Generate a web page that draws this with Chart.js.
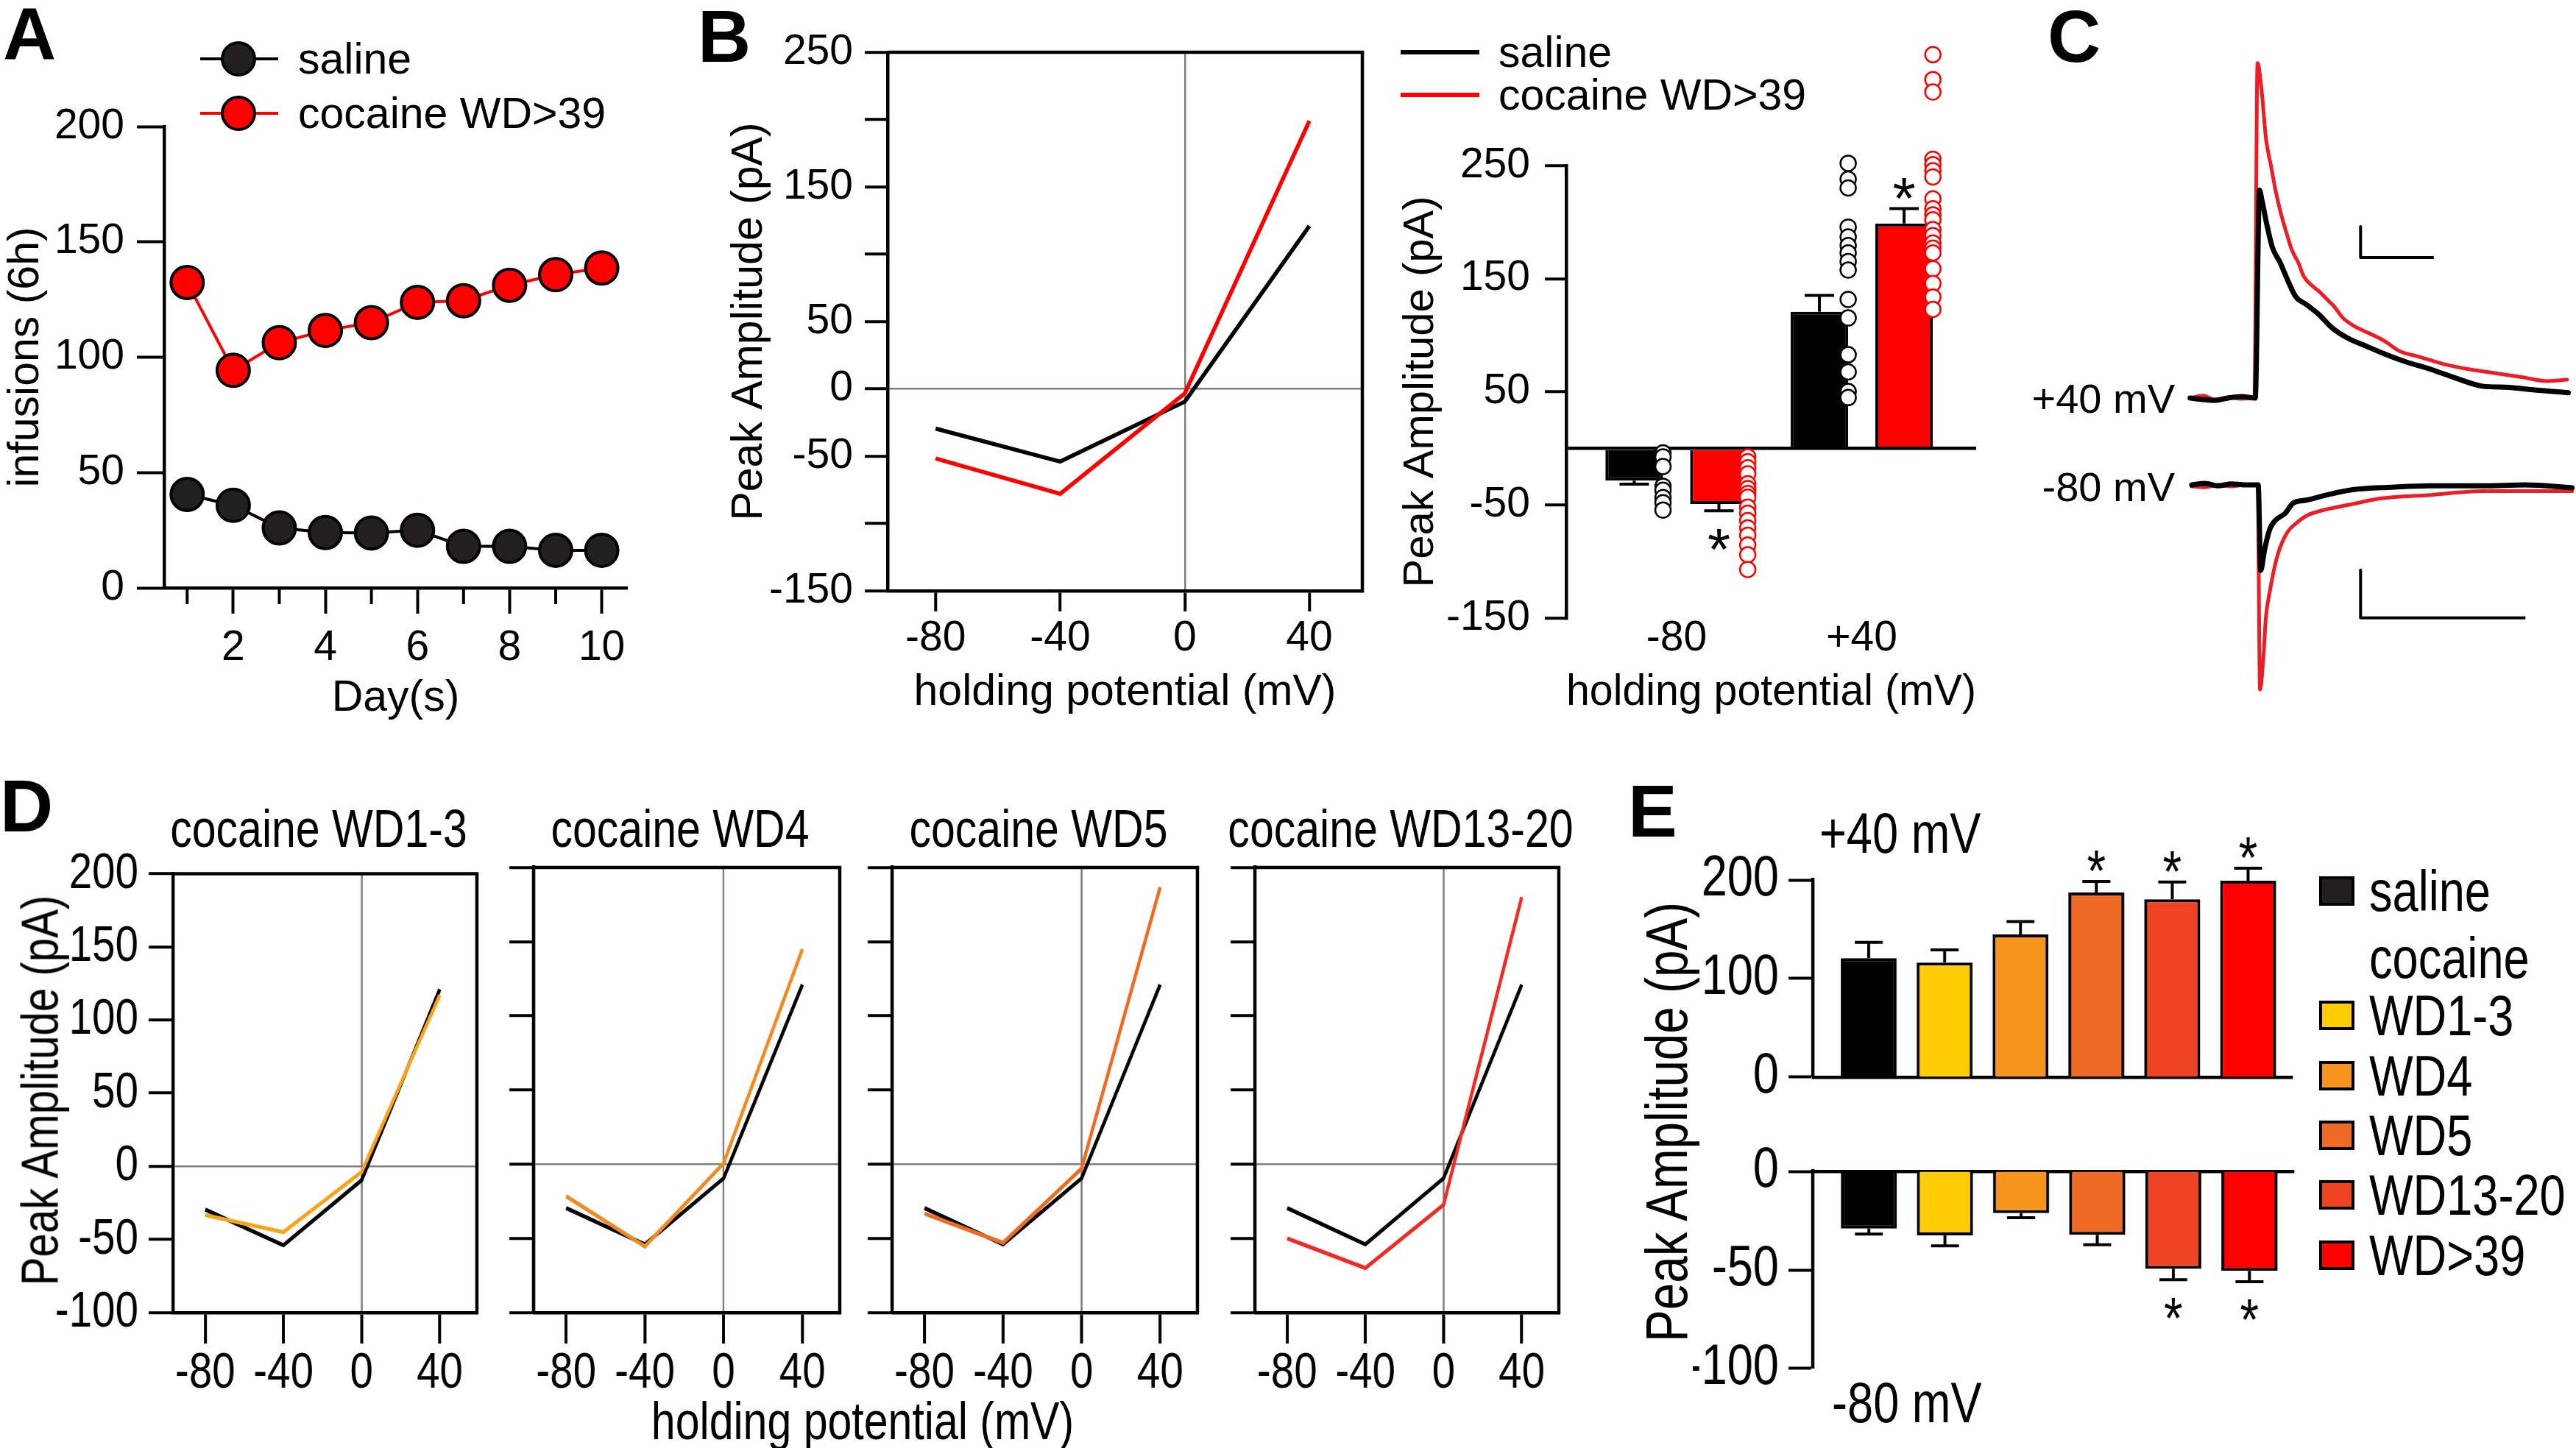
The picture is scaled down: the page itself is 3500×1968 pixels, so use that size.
<!DOCTYPE html>
<html>
<head>
<meta charset="utf-8">
<script src="https://cdn.jsdelivr.net/npm/chart.js@4.4.1/dist/chart.umd.min.js"></script>
<style>
  body { margin: 0; background: #fff; }
  #fig { position: relative; width: 3500px; height: 1968px; overflow: hidden; background: #fff;
         font-family: 'Liberation Sans', Arial, sans-serif; color: #000; }
  #fig canvas { position: absolute; }
  .t { position: absolute; white-space: nowrap; line-height: 1; }
  .box { position: absolute; box-sizing: border-box; }
</style>
</head>
<body>
<div id="fig"></div>
<script>
// ---- A: self-administration
const days = [1, 2, 3, 4, 5, 6, 7, 8, 9, 10];
const salineInfusions = [40.5, 35.8, 26, 24, 23.8, 25, 18, 18, 16.3, 16.3];
const cocaineInfusions = [132.4, 94.3, 106.3, 111.6, 115, 123.8, 124.5, 131.2, 135.8, 138.7];
const infusionTicks = [0, 50, 100, 150, 200];

// ---- B / D: I-V curves (pA at each holding potential)
const holdingPotentials = [-80, -40, 0, 40];
const salineIV = [-29.5, -54, -9.5, 121];
const cocaineWD39IV = [-51.7, -78, -3.4, 199];
const cocaineWD1to3IV = [-33.3, -45, -3.8, 117];
const cocaineWD4IV = [-21.5, -55.4, 0.6, 145];
const cocaineWD5IV = [-33.3, -53, -2.9, 186.7];
const cocaineWD13to20IV = [-50, -70, -27.4, 180];
const ivTicksB = [-150, -100, -50, 0, 50, 100, 150, 200, 250];
const ivLabelsB = [-150, -50, 0, 50, 150, 250];
const ivTicksD = [-100, -50, 0, 50, 100, 150, 200];

// ---- B: bars + single cells
const barCategories = ['-80', '+40'];
const barTicks = [-150, -50, 0, 50, 150, 250];
const salineMean = [-28.6, 120.8];
const salineSem = [3, 14.4];
const cocaineMean = [-49.2, 198.8];
const cocaineSem = [6, 13.2];
const cocaineSig = [true, true];
const salineCells80 = [-4, -7.5, -16, -33.5, -37, -43.5, -48, -54.5];
const salineCells40 = [252, 237.9, 230.2, 195.6, 186.9, 179.3, 172.8, 165.2, 157.6, 131.6, 115.3, 82.8, 67.6, 50.3, 44.9];
const cocaineCells80 = [-7.5, -11.8, -17.2, -22.6, -31.3, -35.6, -39.9, -43.2, -51.9, -57.3, -63.8, -70.3, -76.8, -85.5, -94.1, -107.1];
const cocaineCells40 = [348, 326, 315, 255.6, 250.8, 245.4, 240, 220.5, 211.8, 206.4, 202, 193.4, 188, 181.5, 177, 172.8, 158.7, 145.7, 133.8, 122.9];

// ---- C: example traces (time in ms, current in pA)
const c40SalineT = [7, 15, 22, 30, 38, 46.5, 49.1, 50.6, 53.8, 56.9, 61.7, 66.4, 71.1, 77.4, 85.3, 93.1, 102.6, 113.6, 124.6, 137.2, 153, 168.7, 184.4, 200.2, 215.9, 236.4];
const c40SalineI = [0, -1, -1.5, 0, 1, 0, 134.5, 127.8, 111, 97.5, 87.5, 75.7, 65.6, 60.6, 53.9, 45.5, 38.8, 33.7, 28.7, 23.7, 18.6, 12.7, 7.7, 6.9, 5.2, 3.5];
const c40CocaineT = [7, 15, 22, 30, 38, 46, 47.9, 50.6, 53, 56.2, 58.5, 61.7, 64.8, 68.7, 72.7, 75.8, 80.5, 85.3, 90, 94.7, 99.4, 105.7, 115.2, 124.6, 134.1, 145.1, 160.8, 176.6, 192.3, 208, 223.8, 235.6];
const c40CocaineI = [0, 1.5, -1, 0.5, -0.5, 0.5, 216.8, 196.6, 168, 149.6, 136.1, 121, 109.3, 95.9, 87.5, 79, 73.2, 69, 63.9, 58.9, 52.2, 47.1, 42.1, 37.1, 30.4, 27, 22, 18.6, 16.1, 13.6, 11, 11.9];
const c80SalineT = [8, 16, 24, 32, 40, 48.3, 49.8, 52.2, 55.4, 58.5, 64.8, 69.5, 77.4, 90, 105.7, 129.3, 153, 184.4, 210, 238.7];
const c80SalineI = [0, 0.3, -0.2, 0.2, 0, 0, -17.9, -13.5, -9.2, -7.5, -5.9, -3.8, -3.2, -2.1, -1, -0.5, -0.2, -0.2, 0, -0.6];
const c80CocaineT = [8, 16, 24, 32, 40, 48, 49.4, 51.4, 53, 55.4, 58.5, 61.7, 66.4, 71.1, 77.4, 90, 105.7, 121.5, 153, 184.4, 238.7];
const c80CocaineI = [-0.3, -0.5, 0, -0.3, 0, 0, -42.8, -36.3, -27.6, -22.2, -16.8, -13, -9.7, -8.1, -6.5, -5.1, -4, -2.9, -2.1, -1.3, -1.3];
const scaleBar40T = [110.4, 110.4, 154.8];
const scaleBar40I = [111, 91, 91];
const scaleBar80T = [110.4, 110.4, 210.4];
const scaleBar80I = [-17.8, -27.8, -27.8];

// ---- E: group means
const groupLabels = ['saline', 'WD1-3', 'WD4', 'WD5', 'WD13-20', 'WD>39'];
const mean40 = [120.7, 116.3, 144.8, 187.4, 180.4, 199.3];
const sem40 = [16, 12.8, 13.1, 11.2, 17.6, 12.7];
const sig40 = [false, false, false, true, true, true];
const mean80 = [-29, -32.5, -21.2, -32.2, -49.4, -50.5];
const sem80 = [2.8, 5.3, 2.3, 5, 5.5, 5.5];
const sig80 = [false, false, false, false, true, true];
const groupColors = ['#000000', '#FFCC05', '#F7941E', '#EE6A24', '#EE4423', '#FF0000'];

const RED = '#FF0000';
const NARROW = 0.82;   // horizontal squeeze used to imitate the condensed face of panels D and E

Chart.defaults.font.family = "'Liberation Sans', Arial, sans-serif";
Chart.defaults.color = '#000';
Chart.defaults.plugins.legend.display = false;
Chart.defaults.plugins.tooltip.enabled = false;
Chart.defaults.animation = false;
Chart.defaults.events = [];

// top and right sides of a boxed plot
const framePlugin = {
  id: 'frame',
  afterDraw(chart, args, opts) {
    if (!opts.width) return;
    const a = chart.chartArea, ctx = chart.ctx;
    ctx.save();
    ctx.strokeStyle = '#000';
    ctx.lineWidth = opts.width;
    ctx.beginPath();
    ctx.moveTo(a.left, a.top);
    ctx.lineTo(a.right + opts.vWidth / 2, a.top);
    ctx.stroke();
    ctx.lineWidth = opts.vWidth;
    ctx.beginPath();
    ctx.moveTo(a.right, a.top);
    ctx.lineTo(a.right, a.bottom + opts.width / 2);
    ctx.stroke();
    ctx.restore();
  }
};

// lets single-cell points above the axis top be drawn (B right)
const expandAreaPlugin = {
  id: 'expandArea',
  beforeDatasetsDraw(chart, args, opts) {
    if (!opts.top) return;
    const a = chart.chartArea;
    chart.$savedArea = a;
    chart.chartArea = { left: a.left, right: a.right, bottom: a.bottom, top: a.top - opts.top,
                        width: a.width, height: a.height + opts.top };
  },
  afterDatasetsDraw(chart) {
    if (chart.$savedArea) {
      chart.chartArea = chart.$savedArea;
      chart.$savedArea = null;
    }
  }
};

// one-sided SEM bars and significance stars on bar datasets
const errorBarPlugin = {
  id: 'errorBars',
  afterDatasetsDraw(chart, args, opts) {
    if (!opts.cap) return;
    const ctx = chart.ctx;
    chart.data.datasets.forEach((ds, i) => {
      if (!ds.errors) return;
      const meta = chart.getDatasetMeta(i);
      const yScale = chart.scales[meta.yAxisID];
      meta.data.forEach((bar, j) => {
        const v = ds.data[j].y;
        const dir = v < 0 ? -1 : 1;
        const yTip = yScale.getPixelForValue(v + dir * ds.errors[j]);
        ctx.save();
        ctx.strokeStyle = '#000';
        ctx.lineWidth = opts.vWidth;
        ctx.beginPath();
        ctx.moveTo(bar.x, bar.y);
        ctx.lineTo(bar.x, yTip);
        ctx.stroke();
        ctx.lineWidth = opts.hWidth;
        ctx.beginPath();
        ctx.moveTo(bar.x - opts.cap / 2, yTip);
        ctx.lineTo(bar.x + opts.cap / 2, yTip);
        ctx.stroke();
        if (ds.stars && ds.stars[j]) {
          const cy = yTip - dir * opts.starGap;
          ctx.fillStyle = '#000';
          ctx.font = opts.starSize + "px 'Liberation Sans', Arial, sans-serif";
          ctx.textAlign = 'center';
          ctx.textBaseline = 'alphabetic';
          ctx.fillText('*', bar.x, cy + 0.58 * opts.starSize);
        }
        ctx.restore();
      });
    });
  }
};

// short ticks for odd days in A
const minorTickPlugin = {
  id: 'minorTicks',
  afterDraw(chart, args, opts) {
    if (!opts.values) return;
    const s = chart.scales.x, ctx = chart.ctx;
    ctx.save();
    ctx.strokeStyle = '#000';
    ctx.lineWidth = opts.width;
    opts.values.forEach(v => {
      const x = s.getPixelForValue(v);
      ctx.beginPath();
      ctx.moveTo(x, s.top);
      ctx.lineTo(x, s.top + opts.length);
      ctx.stroke();
    });
    ctx.restore();
  }
};

Chart.register(framePlugin, expandAreaPlugin, errorBarPlugin, minorTickPlugin);

const fig = document.getElementById('fig');

// canvas drawn sx-times narrower on screen than its pixel width
function makeCanvas(left, top, w, h, sx = 1) {
  const c = document.createElement('canvas');
  c.width = Math.round(w / sx);
  c.height = h;
  c.style.cssText = `left:${left}px;top:${top}px;width:${w}px;height:${h}px`;
  fig.appendChild(c);
  return c;
}

function xy(xs, ys) {
  return xs.map((x, i) => ({ x, y: ys[i] }));
}

function text(str, x, y, size, opt = {}) {
  const d = document.createElement('div');
  d.className = 't';
  d.textContent = str;
  d.style.left = x + 'px';
  d.style.top = y + 'px';
  d.style.fontSize = size + 'px';
  if (opt.bold) d.style.fontWeight = 'bold';
  const ax = opt.align === 'center' ? '-50%' : opt.align === 'right' ? '-100%' : '0';
  const ox = opt.align === 'center' ? '50%' : opt.align === 'right' ? '100%' : '0';
  d.style.transformOrigin = opt.rotate ? '50% 50%' : `${ox} 50%`;
  d.style.transform = `translate(${ax},-50%)` + (opt.rotate ? ' rotate(-90deg)' : '') +
                      (opt.narrow ? ` scaleX(${NARROW})` : '');
  fig.appendChild(d);
}

function shape(x, y, w, h, css) {
  const d = document.createElement('div');
  d.className = 'box';
  d.style.cssText += `left:${x}px;top:${y}px;width:${w}px;height:${h}px;` + css;
  fig.appendChild(d);
}

const axisBorder = { display: true, color: '#000', width: 4.5 };

// ================= A =================
new Chart(makeCanvas(0, 0, 900, 990), {
  type: 'line',
  data: {
    datasets: [
      { data: xy(days, salineInfusions), borderColor: '#000', borderWidth: 4, pointRadius: 22,
        pointBorderWidth: 4, pointBorderColor: '#000', pointBackgroundColor: '#231F20' },
      { data: xy(days, cocaineInfusions), borderColor: RED, borderWidth: 4, pointRadius: 22,
        pointBorderWidth: 4, pointBorderColor: '#000', pointBackgroundColor: RED }
    ]
  },
  options: {
    responsive: false,
    layout: { padding: { top: 172, right: 48, left: 0, bottom: 0 } },
    plugins: { minorTicks: { values: days.filter(d => d % 2), length: 22, width: 4 } },
    scales: {
      x: {
        type: 'linear', min: 0.5, max: 10.55,
        afterBuildTicks: s => { s.ticks = days.map(v => ({ value: v })); },
        afterFit: s => { s.height = 191; },
        border: axisBorder,
        grid: { drawOnChartArea: false, tickLength: 35, tickWidth: 4,
                tickColor: c => (c.tick && c.tick.value % 2) ? 'rgba(0,0,0,0)' : '#000' },
        ticks: { autoSkip: false, maxRotation: 0, padding: 13, font: { size: 57 },
                 callback: v => (v % 2 ? '' : String(v)) },
        title: { display: true, text: 'Day(s)', font: { size: 59 }, padding: { top: 0, bottom: 5 } }
      },
      y: {
        min: 0, max: 200,
        afterBuildTicks: s => { s.ticks = infusionTicks.map(v => ({ value: v })); },
        afterFit: s => { s.width = 223; },
        border: axisBorder,
        grid: { drawOnChartArea: false, tickLength: 37, tickWidth: 4, tickColor: '#000' },
        ticks: { padding: 17, font: { size: 57 } },
        title: { display: true, text: 'infusions (6h)', font: { size: 59 }, padding: { top: 0, bottom: 0 } }
      }
    }
  }
});

// I-V plots (B left and the four D panels); horizontal sizes are given in screen px
function ivPanel(o) {
  const sx = o.sx || 1;
  const zeroGrid = (tl, tw, lw) => ({
    drawOnChartArea: true, tickLength: tl, tickWidth: tw, tickColor: '#000', lineWidth: lw,
    color: c => (c.tick && c.tick.value === 0) ? '#808080' : 'rgba(0,0,0,0)'
  });
  return new Chart(makeCanvas(o.left, o.top, o.width, o.height, sx), {
    type: 'line',
    data: {
      datasets: o.series.map(s => ({
        data: xy(holdingPotentials, s.values), borderColor: s.color, borderWidth: 5.5,
        pointRadius: 0, tension: 0
      }))
    },
    options: {
      responsive: false,
      layout: { padding: { top: o.padTop, right: o.padRight / sx, left: 0, bottom: 0 } },
      plugins: { frame: { width: 4.5, vWidth: 4.5 / sx } },
      scales: {
        x: {
          type: 'linear', min: o.xMin, max: o.xMax,
          afterBuildTicks: s => { s.ticks = holdingPotentials.map(v => ({ value: v })); },
          afterFit: s => { s.height = o.xHeight; },
          border: axisBorder,
          grid: zeroGrid(o.xTick, 4 / sx, 2.5 / sx),
          ticks: { autoSkip: false, maxRotation: 0, padding: o.xPad, font: o.tickFont },
          title: o.xTitle || { display: false }
        },
        y: {
          min: o.yMin, max: o.yMax,
          afterBuildTicks: s => { s.ticks = o.yTicks.map(v => ({ value: v })); },
          afterFit: s => { s.width = o.yWidth / sx; },
          border: { display: true, color: '#000', width: 4.5 / sx },
          grid: zeroGrid(o.yTick / sx, 4, 2.5),
          ticks: {
            display: !!o.yLabels, padding: o.yPad / sx, font: o.tickFont, autoSkip: false,
            callback: v => (o.yLabels && o.yLabels.includes(v) ? String(v) : '')
          },
          title: o.yTitle || { display: false }
        }
      }
    }
  });
}

// ================= B (left) =================
ivPanel({
  left: 980, top: 0, width: 891, height: 985, padTop: 71, padRight: 20,
  yWidth: 226, xHeight: 182,
  xMin: -95.4, xMax: 57, yMin: -150, yMax: 250,
  yTicks: ivTicksB, yLabels: ivLabelsB,
  xTick: 28, yTick: 31, xPad: 3, yPad: 16,
  tickFont: { size: 57 },
  series: [{ values: cocaineWD39IV, color: RED }, { values: salineIV, color: '#000' }],
  xTitle: { display: true, text: 'holding potential (mV)', font: { size: 59 }, padding: { top: 0, bottom: 8 } },
  yTitle: { display: true, text: 'Peak Amplitude (pA)', font: { size: 59 }, padding: { top: 3, bottom: 0 } }
});

// ================= B (right) bars =================
const catPctB = 0.915, barPctB = 0.68;
const slotB = catPctB / 2;
const dotOffset = k => (k - 0.5) * slotB + slotB * barPctB / 2;   // right edge of bar k in its group
const cellPoints = (cellsByCat, k) =>
  cellsByCat.flatMap((vals, i) => vals.map(v => ({ x: i + dotOffset(k), y: v })));

new Chart(makeCanvas(1895, 0, 825, 985), {
  type: 'bar',
  data: {
    datasets: [
      { type: 'scatter', data: cellPoints([salineCells80, salineCells40], 0), pointRadius: 10.5,
        pointBorderWidth: 2.5, pointBorderColor: '#000', pointBackgroundColor: '#fff', clip: false, order: 1 },
      { type: 'scatter', data: cellPoints([cocaineCells80, cocaineCells40], 1), pointRadius: 10.5,
        pointBorderWidth: 2.5, pointBorderColor: RED, pointBackgroundColor: '#fff', clip: false, order: 1 },
      { type: 'bar', data: xy([0, 1], salineMean), backgroundColor: '#000', borderColor: '#000',
        borderWidth: 4, categoryPercentage: catPctB, barPercentage: barPctB,
        errors: salineSem, stars: [false, false], order: 2 },
      { type: 'bar', data: xy([0, 1], cocaineMean), backgroundColor: RED, borderColor: '#000',
        borderWidth: 4, categoryPercentage: catPctB, barPercentage: barPctB,
        errors: cocaineSem, stars: cocaineSig, order: 2 }
    ]
  },
  options: {
    responsive: false,
    layout: { padding: { top: 225, right: 35, left: 0, bottom: 0 } },
    plugins: {
      expandArea: { top: 200 },
      errorBars: { cap: 40, vWidth: 4, hWidth: 4, starSize: 80, starGap: 33 }
    },
    scales: {
      x: {
        type: 'linear', offset: false, min: -0.596, max: 1.618,
        afterBuildTicks: s => { s.ticks = barCategories.map((c, i) => ({ value: i })); },
        afterFit: s => { s.height = 145; },
        border: { display: false },
        grid: { display: false, drawTicks: false },
        ticks: { autoSkip: false, maxRotation: 0, padding: -6, font: { size: 57 },
                 callback: v => barCategories[v] },
        title: { display: true, text: 'holding potential (mV)', font: { size: 59 }, padding: { top: 0, bottom: 8 } }
      },
      y: {
        min: -150, max: 250,
        afterBuildTicks: s => { s.ticks = barTicks.map(v => ({ value: v })); },
        afterFit: s => { s.width = 233; },
        border: axisBorder,
        grid: {
          drawOnChartArea: true, tickLength: 29, tickWidth: 4, lineWidth: 4.5,
          color: c => (c.tick && c.tick.value === 0) ? '#000' : 'rgba(0,0,0,0)',
          tickColor: c => (c.tick && c.tick.value === 0) ? 'rgba(0,0,0,0)' : '#000'
        },
        ticks: { padding: 20, font: { size: 57 }, autoSkip: false, callback: v => (v === 0 ? '' : String(v)) },
        title: { display: true, text: 'Peak Amplitude (pA)', font: { size: 58 }, padding: { top: 1, bottom: 0 } }
      }
    }
  }
});

// ================= C traces =================
function trace(ts, is, axis, color, width, straight) {
  return {
    data: xy(ts, is), yAxisID: axis, borderColor: color, borderWidth: width, pointRadius: 0,
    tension: 0, cubicInterpolationMode: straight ? 'default' : 'monotone',
    borderJoinStyle: 'round', borderCapStyle: straight ? 'butt' : 'round'
  };
}
new Chart(makeCanvas(2960, 30, 540, 950), {
  type: 'line',
  data: {
    datasets: [
      trace(c40SalineT, c40SalineI, 'y40', '#000', 7),
      trace(c80SalineT, c80SalineI, 'y80', '#000', 7),
      trace(c40CocaineT, c40CocaineI, 'y40', '#EE1C24', 5),
      trace(c80CocaineT, c80CocaineI, 'y80', '#EE1C24', 5),
      trace(scaleBar40T, scaleBar40I, 'y40', '#000', 4, true),
      trace(scaleBar80T, scaleBar80I, 'y80', '#000', 4, true)
    ]
  },
  options: {
    responsive: false,
    layout: { padding: 0 },
    scales: {
      x: { type: 'linear', display: false, min: 0, max: 241.07 },
      y40: { type: 'linear', display: false, min: -209, max: 243.3 },
      y80: { type: 'linear', display: false, min: -49.4, max: 96.8 }
    }
  }
});

// ================= D =================
const dPanels = [
  { left: 0, width: 678, yWidth: 235, values: cocaineWD1to3IV, color: '#F8A51B', title: 'cocaine WD1-3', labels: true },
  { left: 685, width: 486, yWidth: 40, values: cocaineWD4IV, color: '#F08A21', title: 'cocaine WD4' },
  { left: 1172, width: 485, yWidth: 40, values: cocaineWD5IV, color: '#EE6B22', title: 'cocaine WD5' },
  { left: 1665, width: 483, yWidth: 40, values: cocaineWD13to20IV, color: '#EE2B24', title: 'cocaine WD13-20' }
];
dPanels.forEach(p => {
  ivPanel({
    sx: NARROW,
    left: p.left, top: 1129, width: p.width, height: 785, padTop: 50, padRight: 30,
    yWidth: p.yWidth, xHeight: 130,
    xMin: -96.5, xMax: 59, yMin: -100, yMax: 200,
    yTicks: ivTicksD, yLabels: p.labels ? ivTicksD : null,
    xTick: 42, yTick: 33, xPad: 0, yPad: 14,
    tickFont: { size: 69 },
    series: [{ values: p.values, color: p.color }, { values: salineIV, color: '#000' }]
  });
  const a = p.left + p.yWidth, b = p.left + p.width - 30;
  text(p.title, (a + b) / 2 - 9, 1126, 72, { narrow: true, align: 'center' });
});
text('Peak Amplitude (pA)', 54, 1482, 71, { narrow: true, align: 'center', rotate: true });
text('holding potential (mV)', 1172, 1931, 72, { narrow: true, align: 'center' });

// ================= E =================
function ePanel(o) {
  const sx = NARROW;
  return new Chart(makeCanvas(o.left, o.top, o.width, o.height, sx), {
    type: 'bar',
    data: {
      datasets: [{
        data: xy(groupLabels.map((g, i) => i), o.values), backgroundColor: groupColors,
        borderColor: '#000', borderSkipped: 'start',
        borderWidth: { top: 4, bottom: 4, left: 4 / sx, right: 4 / sx },
        categoryPercentage: 1, barPercentage: 0.737, errors: o.sems, stars: o.sig
      }]
    },
    options: {
      responsive: false,
      layout: { padding: { top: o.padTop, bottom: o.padBottom, right: 20 / sx, left: 0 } },
      plugins: { errorBars: { cap: 38 / sx, vWidth: 4 / sx, hWidth: 4, starSize: 80, starGap: 33 } },
      scales: {
        x: {
          type: 'linear', position: o.xPos, offset: false, min: -0.737, max: 5.587,
          afterBuildTicks: s => { s.ticks = groupLabels.map((g, i) => ({ value: i })); },
          afterFit: s => { s.height = 0; },
          border: axisBorder,
          grid: { display: false, drawTicks: false },
          ticks: { display: false }
        },
        y: {
          min: o.yMin, max: o.yMax,
          afterBuildTicks: s => { s.ticks = o.yTicks.map(v => ({ value: v })); },
          afterFit: s => { s.width = 163 / sx; },
          border: { display: true, color: '#000', width: 4.5 / sx },
          grid: { drawOnChartArea: false, tickLength: 33 / sx, tickWidth: 4, tickColor: '#000' },
          ticks: { padding: 13 / sx, autoSkip: false, font: { size: 77 } }
        }
      }
    }
  });
}
ePanel({ left: 2300, top: 1100, width: 835, height: 426, padTop: 96, padBottom: 50,
         xPos: 'bottom', yMin: 0, yMax: 200, yTicks: [0, 100, 200], values: mean40, sems: sem40, sig: sig40 });
ePanel({ left: 2300, top: 1530, width: 837, height: 392, padTop: 56, padBottom: 50,
         xPos: 'top', yMin: -100, yMax: 0, yTicks: [-100, -50, 0], values: mean80, sems: sem80, sig: sig80 });

text('+40 mV', 2472, 1132, 77, { narrow: true });
text('-80 mV', 2489, 1906, 77, { narrow: true });
text('Peak Amplitude (pA)', 2265, 1525, 80, { narrow: true, align: 'center', rotate: true });

// E legend
const eLegendY = [1211, 1380, 1462, 1543, 1624, 1706];
groupLabels.forEach((g, i) => {
  shape(3151, eLegendY[i] - 20, 48, 40,
        `background:${i === 0 ? '#231F20' : groupColors[i]};border:4px solid #000;`);
  text(g, 3219, eLegendY[i], 77, { narrow: true });
});
text('cocaine', 3219, 1302, 77, { narrow: true });

// ================= legends, labels, panel letters =================
// A legend
shape(272, 78, 106, 4, 'background:#000;');
shape(300, 56, 48, 48, 'border-radius:50%;border:4px solid #000;background:#231F20;');
text('saline', 405, 80, 59);
shape(272, 152, 106, 4, `background:${RED};`);
shape(300, 130, 48, 48, `border-radius:50%;border:4px solid #000;background:${RED};`);
text('cocaine WD>39', 405, 154, 59);

// B legend
shape(1903, 68, 107, 6, 'background:#000;');
text('saline', 2036, 71, 59);
shape(1903, 126, 107, 6, `background:${RED};`);
text('cocaine WD>39', 2036, 129, 59);

// C labels
text('+40 mV', 2955, 542, 56, { align: 'right' });
text('-80 mV', 2955, 662, 56, { align: 'right' });

// panel letters
text('A', 4, 46, 100, { bold: true });
text('B', 948, 49, 100, { bold: true });
text('C', 2782, 49, 100, { bold: true });
text('D', 0, 1095, 100, { bold: true });
text('E', 2212, 1102, 100, { bold: true });
</script>
</body>
</html>
